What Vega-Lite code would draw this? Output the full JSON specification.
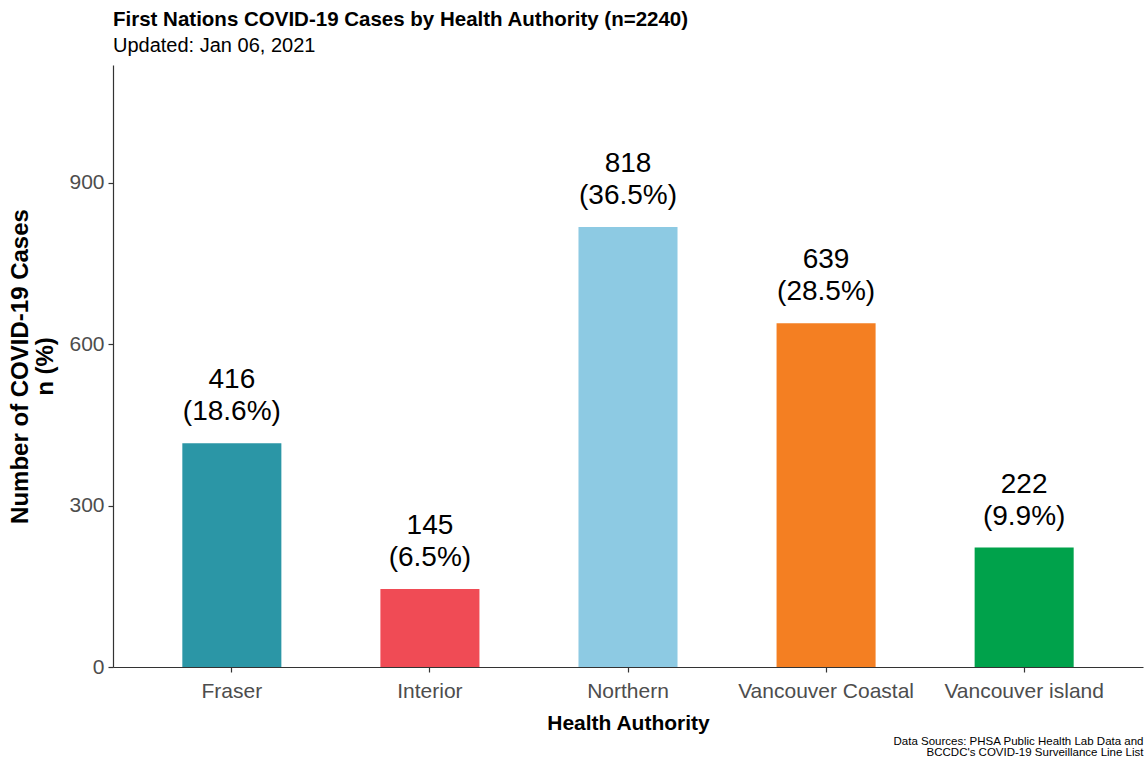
{
  "$schema": "https://vega.github.io/schema/vega-lite/v6.json",
  "width": 1030,
  "height": 602,
  "autosize": {"type": "none"},
  "padding": {"left": 113, "top": 65, "right": 4, "bottom": 92},
  "background": "white",
  "config": {
    "view": {"stroke": null},
    "font": "Liberation Sans"
  },
  "title": {
    "text": "First Nations COVID-19 Cases by Health Authority (n=2240)",
    "subtitle": "Updated: Jan 06, 2021",
    "anchor": "start",
    "frame": "group",
    "offset": 9,
    "fontSize": 20.5,
    "fontWeight": "bold",
    "color": "black",
    "subtitleFontSize": 20,
    "subtitleColor": "black",
    "subtitlePadding": 6,
    "font": "Liberation Sans",
    "subtitleFont": "Liberation Sans"
  },
  "data": {
    "values": [
      {"authority": "Fraser", "cases": 416, "label": "416\n(18.6%)"},
      {"authority": "Interior", "cases": 145, "label": "145\n(6.5%)"},
      {"authority": "Northern", "cases": 818, "label": "818\n(36.5%)"},
      {"authority": "Vancouver Coastal", "cases": 639, "label": "639\n(28.5%)"},
      {"authority": "Vancouver island", "cases": 222, "label": "222\n(9.9%)"}
    ]
  },
  "encoding": {
    "y": {
      "field": "cases",
      "type": "quantitative",
      "scale": {"domain": [0, 1119], "nice": false},
      "axis": {
        "values": [0, 300, 600, 900],
        "title": ["Number of COVID-19 Cases", "n (%)"],
        "titleFontSize": 24,
        "titleFontWeight": "bold",
        "titleColor": "black",
        "titlePadding": 11,
        "titleLineHeight": 25,
        "labelFontSize": 21,
        "labelColor": "#4d4d4d",
        "labelPadding": 4,
        "grid": false,
        "domainColor": "#333333",
        "domainWidth": 1.2,
        "tickColor": "#333333",
        "tickSize": 5,
        "tickWidth": 1.2
      }
    }
  },
  "layer": [
    {
      "mark": {"type": "bar"},
      "encoding": {
        "x": {
          "field": "authority",
          "type": "nominal",
          "sort": null,
          "scale": {"paddingInner": 0.5, "paddingOuter": 0.35},
          "axis": {
            "orient": "bottom",
            "title": "Health Authority",
            "titleFontSize": 21,
            "titleFontWeight": "bold",
            "titleColor": "black",
            "titlePadding": 11,
            "labelAngle": 0,
            "labelFontSize": 21,
            "labelColor": "#4d4d4d",
            "labelPadding": 8,
            "domainColor": "#333333",
            "domainWidth": 1.2,
            "tickColor": "#333333",
            "tickSize": 5,
            "tickWidth": 1.2
          }
        },
        "color": {
          "field": "authority",
          "type": "nominal",
          "legend": null,
          "scale": {
            "domain": ["Fraser", "Interior", "Northern", "Vancouver Coastal", "Vancouver island"],
            "range": ["#2B96A6", "#F04B55", "#8DCAE3", "#F47F22", "#00A24B"]
          }
        }
      }
    },
    {
      "mark": {
        "type": "text",
        "baseline": "bottom",
        "lineBreak": "\n",
        "fontSize": 28,
        "lineHeight": 32,
        "dy": -49,
        "color": "black"
      },
      "encoding": {
        "x": {"field": "authority", "type": "nominal", "sort": null, "axis": null},
        "text": {"field": "label"}
      }
    },
    {
      "mark": {"type": "point", "opacity": 0},
      "encoding": {
        "x": {
          "field": "authority",
          "type": "nominal",
          "sort": null,
          "axis": {
            "orient": "bottom",
            "offset": 68,
            "title": ["Data Sources: PHSA Public Health Lab Data and", "BCCDC's COVID-19 Surveillance Line List"],
            "titleFontSize": 11.5,
            "titleFontWeight": "normal",
            "titleColor": "black",
            "titleAnchor": "end",
            "titleAlign": "right",
            "titleLineHeight": 11,
            "titlePadding": 0,
            "labels": false,
            "ticks": false,
            "domain": false
          }
        }
      }
    }
  ],
  "resolve": {"axis": {"x": "independent"}}
}
